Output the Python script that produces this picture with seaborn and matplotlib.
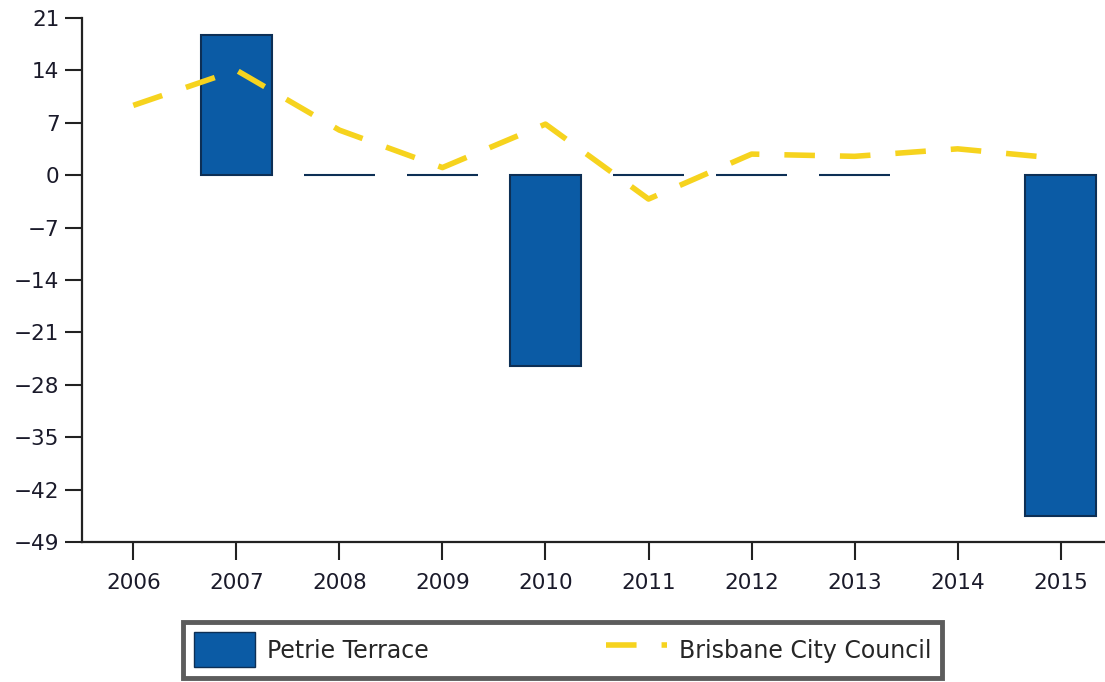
import matplotlib
matplotlib.use("Agg")
import matplotlib.pyplot as plt
from matplotlib.patches import Patch
from matplotlib.lines import Line2D
import seaborn as sns
import pandas as pd
import numpy as np

years = ["2006", "2007", "2008", "2009", "2010", "2011", "2012", "2013", "2014", "2015"]
petrie = [np.nan, 18.7, 0.0, 0.0, -25.5, 0.0, 0.0, 0.0, np.nan, -45.5]
brisbane = [9.3, 14.0, 6.0, 1.0, 6.8, -3.2, 2.8, 2.5, 3.5, 2.2]
yticks = list(range(-49, 22, 7))

bar_color = "#0b5ba5"
line_color = "#f6d31e"
line_dash = (5.5, 4.5)

df = pd.DataFrame({"year": years, "petrie": petrie, "brisbane": brisbane})

sns.set_style("white")
plt.rcParams["font.family"] = ["DejaVu Sans"]

fig = plt.figure(figsize=(11.05, 6.82), dpi=100)
ax = fig.add_axes([0.074, 0.205, 0.926, 0.769])

sns.barplot(data=df.dropna(subset=["petrie"]), x="year", y="petrie", order=years,
            color=bar_color, width=0.69, edgecolor="#0d2f55", linewidth=1.5,
            saturation=1, ax=ax)
ax.plot(range(len(years)), df["brisbane"], color=line_color, linewidth=4,
        dashes=line_dash, dash_capstyle="butt")

ax.set_xlim(-0.5, 9.43)
ax.set_ylim(-49, 21)
ax.set_yticks(yticks)
ax.set_xlabel("")
ax.set_ylabel("")

for s in ["top", "right"]:
    ax.spines[s].set_visible(False)
for s in ["left", "bottom"]:
    ax.spines[s].set_color("#222222")
    ax.spines[s].set_linewidth(1.6)

ax.tick_params(axis="y", direction="out", length=12, width=1.5, color="#222222",
               labelsize=15.5, labelcolor="#1a1a2a", pad=4, left=True)
ax.tick_params(axis="x", direction="out", length=13, width=1.5, color="#222222",
               labelsize=15.5, labelcolor="#1a1a2a", pad=9, bottom=True)

handles = [Patch(facecolor=bar_color, edgecolor="#0d2f55", label="Petrie Terrace"),
           Line2D([0], [0], color=line_color, linewidth=4, dashes=line_dash,
                  label="Brisbane City Council")]
leg = fig.legend(handles=handles, loc="center", bbox_to_anchor=(0.509, 0.047),
                 ncol=2, frameon=True, fancybox=False, fontsize=17,
                 handlelength=2.6, handleheight=1.9, handletextpad=0.5,
                 columnspacing=7.5, borderpad=0.45, edgecolor="#333333")
leg.get_frame().set_linewidth(3.5)

fig.savefig("out.png", dpi=100)
